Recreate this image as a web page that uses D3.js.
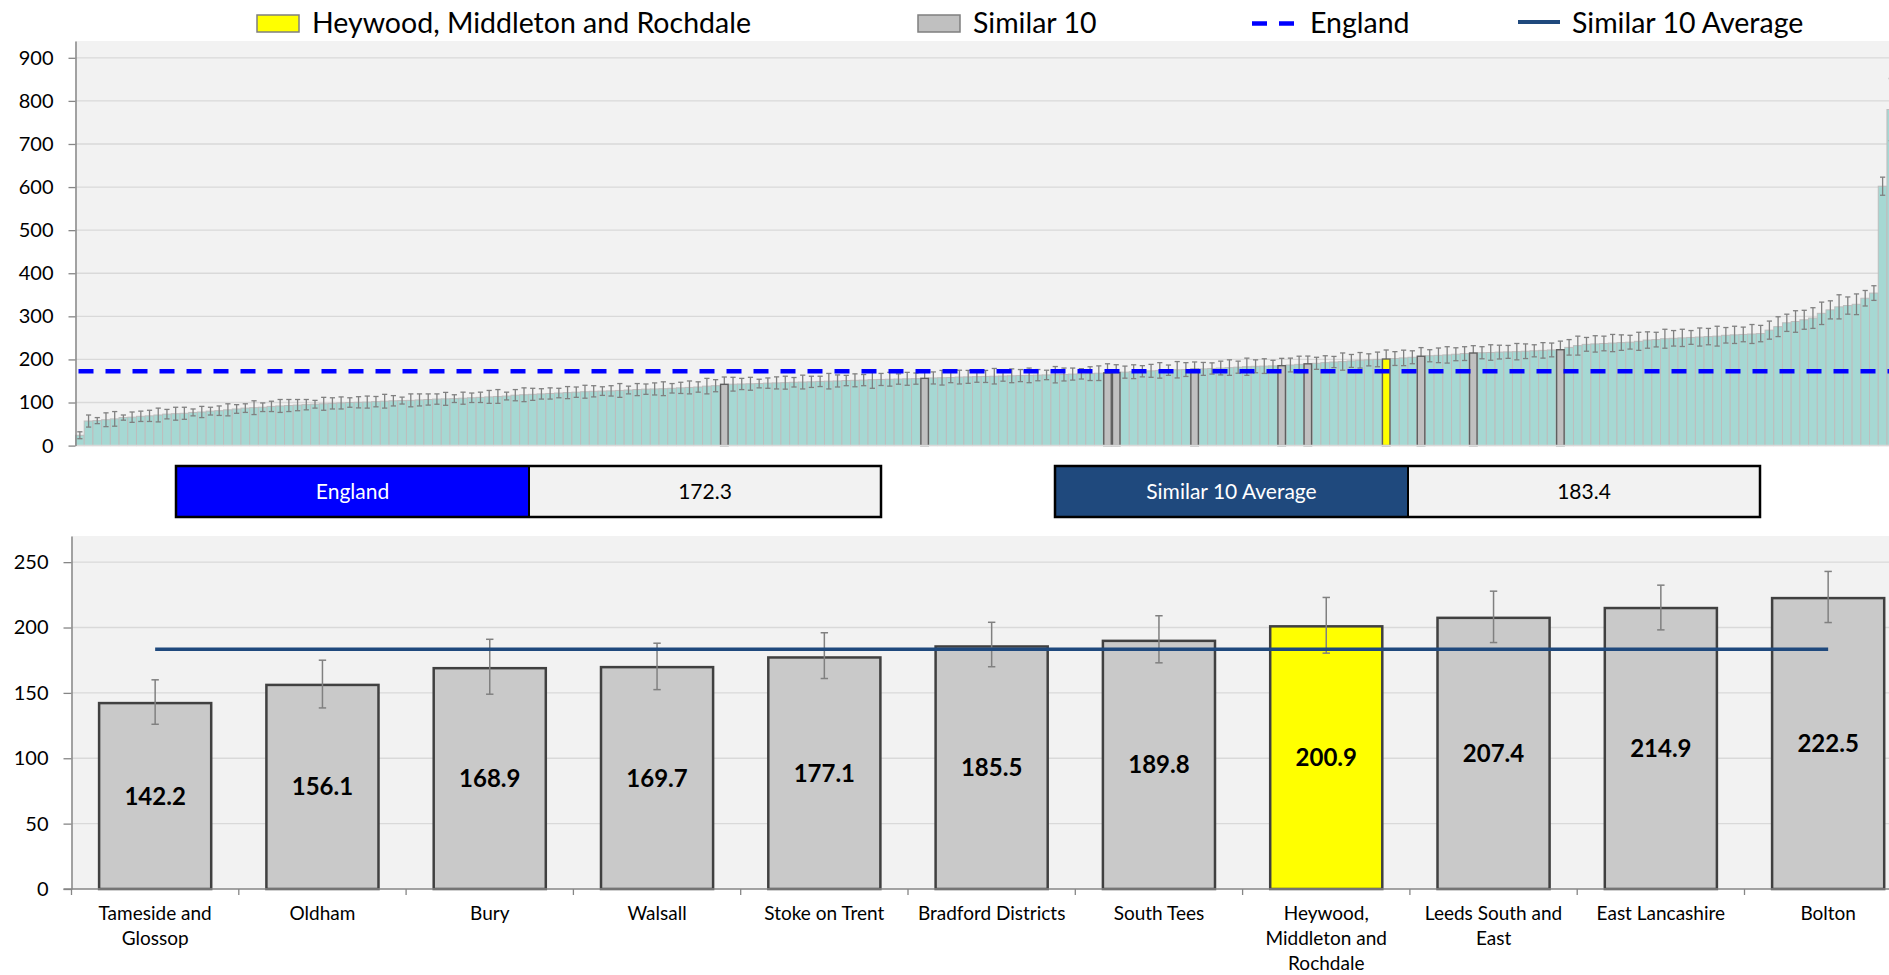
<!DOCTYPE html>
<html><head><meta charset="utf-8">
<script src="https://cdn.jsdelivr.net/npm/d3@7"></script>
<style>
html,body{margin:0;padding:0;background:#fff;overflow:hidden;}
svg{display:block;font-family:Lato,"Open Sans",sans-serif;}
</style></head><body>
<svg id="c" width="1889" height="975"></svg>
<script>
// ---------- DATA ----------
const topValues = [
 24,57,58,60,62,65,66,68,69,71,
 73,74,75,77,78,80,81,83,85,87,
 88,89,91,92,93,94,95,96,97,98,
 99,100,100.5,101,102,103,104,104.5,105,106,
 107,108,108.5,109,110,111,112,113,114,115,
 117,118,119,120,121,122,123,124,125,126,
 126.5,127,128,129,130,131,131.5,132,133,134,
 135,136,138,139,142.2,142.5,143,143.5,144,145,
 145.5,146,147,147.5,148,149,149.5,150,151,151.5,
 152,153,153.5,154,154.5,155,155.5,156.1,157,157.5,
 158,159,159.5,160,160.5,161,161.5,162,162.5,163,
 163.5,164,164.5,165,166,166.5,167,168,168.9,169.7,
 170.5,171.5,172.5,173.5,174.5,175,176,176.5,177.1,178,
 179,180,181,182,183,184,184.5,185,185.5,187,
 188.5,189.8,191,192.5,194,195,196.5,198,199,200,
 200.9,202,203.5,205,207.4,208.5,209.5,210.5,212,213.5,
 214.9,215.5,216,217,217.5,218,219,220,221,222,
 222.5,228,232,235,236,237,238,239,240,242,
 245,246,248,249,250,251,252,253,254,256,
 257,258,259,260,268,276,285,288,292,296,
 307,315,322,325,328,342,354,602,780
];
const topErr = [
 8,14,7,16,17,6,12,12,13,16,
 11,15,14,8,13,9,11,14,10,10,
 16,10,12,15,14,13,12,9,15,13,
 14,11,13,14,12,16,12,8,15,14,
 13,12,15,9,14,11,12,15,16,9,
 13,16,14,12,13,11,14,12,15,13,
 10,12,16,9,14,12,14,16,11,13,
 15,12,18,14,17,16,13,15,10,12,
 14,15,11,16,13,12,18,14,12,15,
 13,20,14,16,12,15,13,18,14,17,
 12,16,15,13,14,18,12,16,14,17,
 13,11,19,15,14,12,16,17,21,18,
 14,16,13,15,18,12,19,16,17,15,
 13,16,18,14,20,15,17,13,17,16,
 19,18,14,16,13,20,15,18,14,17,
 21,16,18,15,20,14,17,19,15,16,
 17,14,18,16,15,19,17,14,18,16,
 20,18,22,16,19,17,20,18,16,21,
 19,17,22,18,20,16,21,19,23,18,
 20,17,22,19,21,23,20,25,22,24,
 26,21,28,20,24,18,17,21,72
];
const similarIdx = [74,97,118,119,128,138,141,154,160,170];
const highlightIdx = 150;
const topTicks = [0,100,200,300,400,500,600,700,800,900];
const englandValue = 172.3;
const similarAvg = 183.4;

const categories = ["Tameside and\nGlossop","Oldham","Bury","Walsall","Stoke on Trent","Bradford Districts","South Tees","Heywood,\nMiddleton and\nRochdale","Leeds South and\nEast","East Lancashire","Bolton"];
const simValues = [142.2,156.1,168.9,169.7,177.1,185.5,189.8,200.9,207.4,214.9,222.5];
const simLower  = [126.0,138.5,149.0,152.5,161.0,170.0,173.0,180.4,188.5,198.2,203.8];
const simUpper  = [160.0,175.0,191.0,188.0,196.0,204.0,209.0,223.0,227.8,232.4,242.9];
const highlightName = "Heywood,\nMiddleton and\nRochdale";
const simTicks = [0,50,100,150,200,250];
const legendLabels = ["Heywood, Middleton and Rochdale","Similar 10","England","Similar 10 Average"];
const boxLabels = ["England","Similar 10 Average"];

// ---------- STYLE ----------
const C = {
  bg:"#f2f2f2", grid:"#d9d9d9", axis:"#868686", teal:"#a6d8d3", tealStroke:"#bdbdbd",
  gray:"#c0c0c0", grayStroke:"#5f5f5f", yellow:"#ffff00", err:"#808080",
  eng:"#0000ff", avg:"#1f497d"
};
const svg = d3.select("#c");
const W = 1889;

// ---------- LEGEND ----------
const lg = svg.append("g").attr("font-size","28.5px").attr("fill","#000");
lg.append("rect").attr("x",257).attr("y",15).attr("width",42).attr("height",17)
  .attr("fill",C.yellow).attr("stroke","#7f7f7f").attr("stroke-width",1.5);
lg.append("text").attr("x",312).attr("y",33).text(legendLabels[0]);
lg.append("rect").attr("x",918).attr("y",15).attr("width",42).attr("height",17)
  .attr("fill",C.gray).attr("stroke","#7f7f7f").attr("stroke-width",1.5);
lg.append("text").attr("x",973).attr("y",33).text(legendLabels[1]);
lg.append("line").attr("x1",1252).attr("x2",1298).attr("y1",23.5).attr("y2",23.5)
  .attr("stroke",C.eng).attr("stroke-width",4.5).attr("stroke-dasharray","15,12");
lg.append("text").attr("x",1310).attr("y",33).text(legendLabels[2]);
lg.append("line").attr("x1",1518).attr("x2",1560).attr("y1",22).attr("y2",22)
  .attr("stroke",C.avg).attr("stroke-width",4);
lg.append("text").attr("x",1572).attr("y",33).text(legendLabels[3]);

// ---------- TOP CHART ----------
const N = topValues.length;
const tx0 = 75.5, bw = 8.709;
const xTop = d3.scaleBand().domain(d3.range(N)).range([tx0, tx0 + N*bw]).padding(0);
const yTop = d3.scaleLinear().domain([0, 939]).range([445.6, 41]);
const gt = svg.append("g");
gt.append("rect").attr("x",tx0).attr("y",yTop(939)).attr("width",W-tx0).attr("height",yTop(0)-yTop(939)).attr("fill",C.bg);
gt.selectAll("line.grid").data(topTicks.filter(d=>d>0)).join("line").attr("class","grid")
  .attr("x1",tx0).attr("x2",W).attr("y1",d=>yTop(d)).attr("y2",d=>yTop(d))
  .attr("stroke",C.grid).attr("stroke-width",1.3);

const topData = topValues.map((v,i)=>({i,v,e:topErr[i],
  kind: i===highlightIdx ? "hl" : (similarIdx.includes(i) ? "sim" : "other")}));
gt.selectAll("rect.tb").data(topData.filter(d=>d.kind==="other")).join("rect").attr("class","tb")
  .attr("x",d=>xTop(d.i)).attr("width",xTop.bandwidth())
  .attr("y",d=>yTop(d.v)).attr("height",d=>yTop(0)-yTop(d.v))
  .attr("fill",C.teal).attr("stroke",C.tealStroke).attr("stroke-width",1);
gt.selectAll("line.te").data(topData).join("line").attr("class","te")
  .attr("x1",d=>xTop(d.i)+bw/2).attr("x2",d=>xTop(d.i)+bw/2)
  .attr("y1",d=>yTop(d.v-d.e)).attr("y2",d=>yTop(d.v+d.e))
  .attr("stroke",C.err).attr("stroke-width",1.3);
["lo","hi"].forEach(k=>{
  gt.selectAll("line.cap"+k).data(topData).join("line").attr("class","cap"+k)
    .attr("x1",d=>xTop(d.i)+bw/2-2.6).attr("x2",d=>xTop(d.i)+bw/2+2.6)
    .attr("y1",d=>yTop(k==="lo"?d.v-d.e:d.v+d.e)).attr("y2",d=>yTop(k==="lo"?d.v-d.e:d.v+d.e))
    .attr("stroke",C.err).attr("stroke-width",1.3);
});
gt.selectAll("rect.ts").data(topData.filter(d=>d.kind!=="other")).join("rect").attr("class","ts")
  .attr("x",d=>xTop(d.i)+0.6).attr("width",xTop.bandwidth()-1.2)
  .attr("y",d=>yTop(d.v)).attr("height",d=>yTop(0)-yTop(d.v))
  .attr("fill",d=>d.kind==="hl"?C.yellow:C.gray).attr("stroke",C.grayStroke).attr("stroke-width",1.4);
gt.append("line").attr("x1",tx0).attr("x2",W).attr("y1",yTop(0)).attr("y2",yTop(0)).attr("stroke",C.grid).attr("stroke-width",1.5);
gt.append("line").attr("x1",tx0+3).attr("x2",W).attr("y1",yTop(englandValue)).attr("y2",yTop(englandValue))
  .attr("stroke",C.eng).attr("stroke-width",4.5).attr("stroke-dasharray","15,12");
const axT = gt.append("g").attr("transform",`translate(${tx0},0)`)
  .call(d3.axisLeft(yTop).tickValues(topTicks).tickSize(7).tickSizeOuter(0).tickPadding(15));
axT.select(".domain").attr("stroke",C.axis).attr("stroke-width",1.5);
axT.selectAll(".tick line").attr("stroke",C.axis).attr("stroke-width",1.3);
axT.selectAll(".tick text").attr("font-size","20px").attr("fill","#000").attr("font-family","Lato");

// ---------- BOXES ----------
function box(x0, xm, x1, y0, y1, color, label, value){
  const g = svg.append("g");
  g.append("rect").attr("x",x0).attr("y",y0).attr("width",xm-x0).attr("height",y1-y0).attr("fill",color);
  g.append("rect").attr("x",xm).attr("y",y0).attr("width",x1-xm).attr("height",y1-y0).attr("fill",C.bg);
  g.append("rect").attr("x",x0).attr("y",y0).attr("width",x1-x0).attr("height",y1-y0)
    .attr("fill","none").attr("stroke","#000").attr("stroke-width",2.5);
  g.append("line").attr("x1",xm).attr("x2",xm).attr("y1",y0).attr("y2",y1).attr("stroke","#000").attr("stroke-width",2);
  g.append("text").attr("x",(x0+xm)/2).attr("y",(y0+y1)/2+7.5).attr("text-anchor","middle")
    .attr("font-size","21px").attr("fill","#fff").text(label);
  g.append("text").attr("x",(xm+x1)/2).attr("y",(y0+y1)/2+7.5).attr("text-anchor","middle")
    .attr("font-size","21px").attr("fill","#000").text(d3.format(".1f")(value));
}
box(176, 529, 881, 466, 517, C.eng, boxLabels[0], englandValue);
box(1055, 1408, 1760, 466, 517, C.avg, boxLabels[1], similarAvg);

// ---------- BOTTOM CHART ----------
const bx0 = 71.5, step = 167.3;
const xB = d3.scaleBand().domain(categories).range([bx0, bx0 + categories.length*step])
  .paddingInner(0.33).paddingOuter(0.165);
const yB = d3.scaleLinear().domain([0,270]).range([889, 536]);
const gb = svg.append("g");
gb.append("rect").attr("x",bx0).attr("y",yB(270)).attr("width",W-bx0).attr("height",yB(0)-yB(270)).attr("fill",C.bg);
gb.selectAll("line.grid").data(simTicks.filter(d=>d>0)).join("line").attr("class","grid")
  .attr("x1",bx0).attr("x2",W).attr("y1",d=>yB(d)).attr("y2",d=>yB(d))
  .attr("stroke",C.grid).attr("stroke-width",1.3);
const bData = categories.map((c,i)=>({c,v:simValues[i],lo:simLower[i],hi:simUpper[i]}));
gb.selectAll("rect.bb").data(bData).join("rect").attr("class","bb")
  .attr("x",d=>xB(d.c)).attr("width",xB.bandwidth())
  .attr("y",d=>yB(d.v)).attr("height",d=>yB(0)-yB(d.v))
  .attr("fill",d=>d.c===highlightName?C.yellow:"#c9c9c9")
  .attr("stroke","#404040").attr("stroke-width",2.5);
const cx = d=>xB(d.c)+xB.bandwidth()/2;
gb.selectAll("line.be").data(bData).join("line").attr("class","be")
  .attr("x1",cx).attr("x2",cx).attr("y1",d=>yB(d.lo)).attr("y2",d=>yB(d.hi))
  .attr("stroke",C.err).attr("stroke-width",1.5);
["lo","hi"].forEach(k=>{
  gb.selectAll("line.bc"+k).data(bData).join("line").attr("class","bc"+k)
    .attr("x1",d=>cx(d)-3.7).attr("x2",d=>cx(d)+3.7)
    .attr("y1",d=>yB(d[k])).attr("y2",d=>yB(d[k]))
    .attr("stroke",C.err).attr("stroke-width",1.5);
});
gb.append("line").attr("x1",cx(bData[0])).attr("x2",cx(bData[bData.length-1]))
  .attr("y1",yB(similarAvg)).attr("y2",yB(similarAvg))
  .attr("stroke",C.avg).attr("stroke-width",3.5);
gb.selectAll("text.val").data(bData).join("text").attr("class","val")
  .attr("x",cx).attr("y",d=>yB(d.v/2)+8.5).attr("text-anchor","middle")
  .attr("font-size","24px").attr("font-weight","bold").attr("fill","#000")
  .text(d=>d3.format(".1f")(d.v));
const axB = gb.append("g").attr("transform",`translate(${bx0},0)`)
  .call(d3.axisLeft(yB).tickValues(simTicks).tickSize(8).tickSizeOuter(0).tickPadding(15));
axB.select(".domain").attr("stroke",C.axis).attr("stroke-width",1.5);
axB.selectAll(".tick line").attr("stroke",C.axis).attr("stroke-width",1.3);
axB.selectAll(".tick text").attr("font-size","20px").attr("fill","#000").attr("font-family","Lato");
gb.append("line").attr("x1",bx0-8).attr("x2",W).attr("y1",yB(0)).attr("y2",yB(0)).attr("stroke",C.axis).attr("stroke-width",1.5);
const bounds = categories.map(c=>xB(c)-xB.step()*xB.paddingInner()/2);
gb.selectAll("line.xt").data(bounds).join("line").attr("class","xt")
  .attr("x1",d=>d).attr("x2",d=>d).attr("y1",yB(0)).attr("y2",yB(0)+6)
  .attr("stroke",C.axis).attr("stroke-width",1.3);
const lab = gb.selectAll("text.cat").data(bData).join("text").attr("class","cat")
  .attr("text-anchor","middle").attr("font-size","19px").attr("fill","#000");
lab.each(function(d){
  const lines = d.c.split("\n");
  d3.select(this).selectAll("tspan").data(lines).join("tspan")
    .attr("x",cx(d)).attr("y",(l,j)=>920+j*25).text(l=>l);
});
</script>
</body></html>
